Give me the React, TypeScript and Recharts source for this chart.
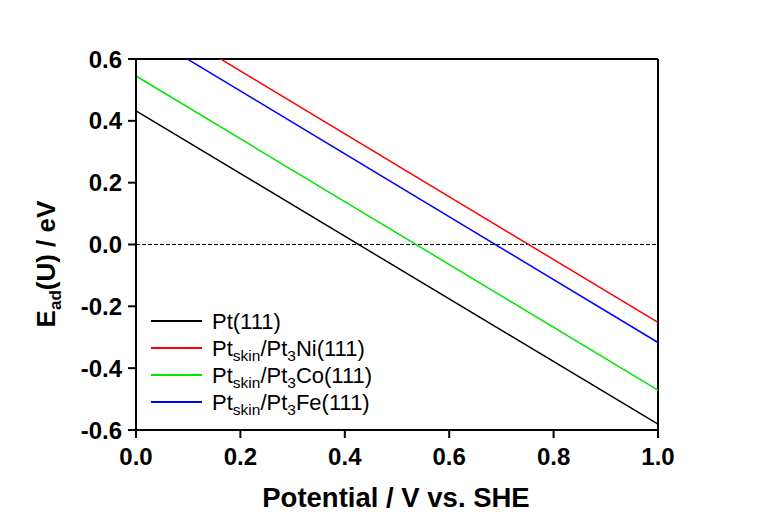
import React from "react";
import { LineChart, Line, XAxis, YAxis, ReferenceLine, Legend } from "recharts";

const potentials = [0, 1];
const pt111 = [0.432, -0.581];
const ptNi = [0.765, -0.252];
const ptCo = [0.545, -0.471];
const ptFe = [0.70, -0.317];

const xTicks = [0, 0.2, 0.4, 0.6, 0.8, 1.0];
const yTicks = [-0.6, -0.4, -0.2, 0, 0.2, 0.4, 0.6];

const seriesInfo = [
  { key: "pt", name: "Pt(111)", color: "#000000", alloy: "" },
  { key: "ni", name: "Pt_skin/Pt3Ni(111)", color: "#ff0000", alloy: "Ni" },
  { key: "co", name: "Pt_skin/Pt3Co(111)", color: "#00e600", alloy: "Co" },
  { key: "fe", name: "Pt_skin/Pt3Fe(111)", color: "#0000ff", alloy: "Fe" },
];

const data = potentials.map((x, i) => ({
  x,
  pt: pt111[i],
  ni: ptNi[i],
  co: ptCo[i],
  fe: ptFe[i],
}));

const FONT = "'Liberation Sans', Arial, sans-serif";

const LegendContent = () => (
  <svg width={260} height={120} style={{ display: "block", overflow: "visible" }}>
    {seriesInfo.map((s, i) => {
      const cy = 21 + i * 27;
      return (
        <g key={s.key}>
          <line x1={11} x2={62} y1={cy} y2={cy} stroke={s.color} strokeWidth={2} />
          <text x={72} y={cy + 7.5} fontFamily={FONT} fontSize={22} fill="#000">
            {s.alloy === "" ? (
              "Pt(111)"
            ) : (
              <>
                <tspan>Pt</tspan>
                <tspan fontSize={15.5} dy={5}>skin</tspan>
                <tspan dy={-5}>/Pt</tspan>
                <tspan fontSize={15.5} dy={5}>3</tspan>
                <tspan dy={-5}>{s.alloy}(111)</tspan>
              </>
            )}
          </text>
        </g>
      );
    })}
  </svg>
);

const YTitle = () => (
  <text
    x={55}
    y={264}
    transform="rotate(-90, 55, 264)"
    textAnchor="middle"
    fontFamily={FONT}
    fontWeight="bold"
    fontSize={26}
    fill="#000"
  >
    <tspan>E</tspan>
    <tspan fontSize={17} dy={6}>ad</tspan>
    <tspan dy={-6}>(U) / eV</tspan>
  </text>
);

const XTitle = () => (
  <text
    x={396}
    y={507}
    textAnchor="middle"
    fontFamily={FONT}
    fontWeight="bold"
    fontSize={27.5}
    fill="#000"
  >
    Potential / V vs. SHE
  </text>
);

const tickStyle = { fontFamily: FONT, fontWeight: "bold" as const, fontSize: 24, fill: "#000" };

export default function App() {
  return (
    <div style={{ position: "absolute", left: 0, top: 0, width: 768, height: 520, background: "#fff" }}>
      <LineChart
        width={768}
        height={520}
        data={data}
        margin={{ top: 59, right: 110, bottom: 0, left: 0 }}
      >
        <XAxis
          dataKey="x"
          type="number"
          domain={[0, 1]}
          ticks={xTicks}
          tickFormatter={(v: number) => v.toFixed(1)}
          height={90}
          tick={tickStyle}
          tickSize={8}
          tickMargin={10}
          axisLine={{ stroke: "#000", strokeWidth: 2 }}
          tickLine={{ stroke: "#000", strokeWidth: 2 }}
          label={<XTitle />}
        />
        <YAxis
          type="number"
          domain={[-0.6, 0.6]}
          ticks={yTicks}
          allowDataOverflow
          tickFormatter={(v: number) => v.toFixed(1)}
          width={136}
          tick={tickStyle}
          tickSize={8}
          tickMargin={6}
          axisLine={{ stroke: "#000", strokeWidth: 2 }}
          tickLine={{ stroke: "#000", strokeWidth: 2 }}
          label={<YTitle />}
        />
        <ReferenceLine y={0} stroke="#000" strokeWidth={1} strokeDasharray="4 2" />
        <ReferenceLine y={0.6} stroke="#000" strokeWidth={2} />
        <ReferenceLine x={1} stroke="#000" strokeWidth={2} />
        {seriesInfo.map((s) => (
          <Line
            key={s.key}
            dataKey={s.key}
            name={s.name}
            stroke={s.color}
            strokeWidth={1.5}
            dot={false}
            activeDot={false}
            isAnimationActive={false}
          />
        ))}
        <Legend
          layout="vertical"
          align="center"
          verticalAlign="middle"
          content={<LegendContent />}
          wrapperStyle={{ left: 140, top: 300, width: 260, height: 120 }}
        />
      </LineChart>
    </div>
  );
}
